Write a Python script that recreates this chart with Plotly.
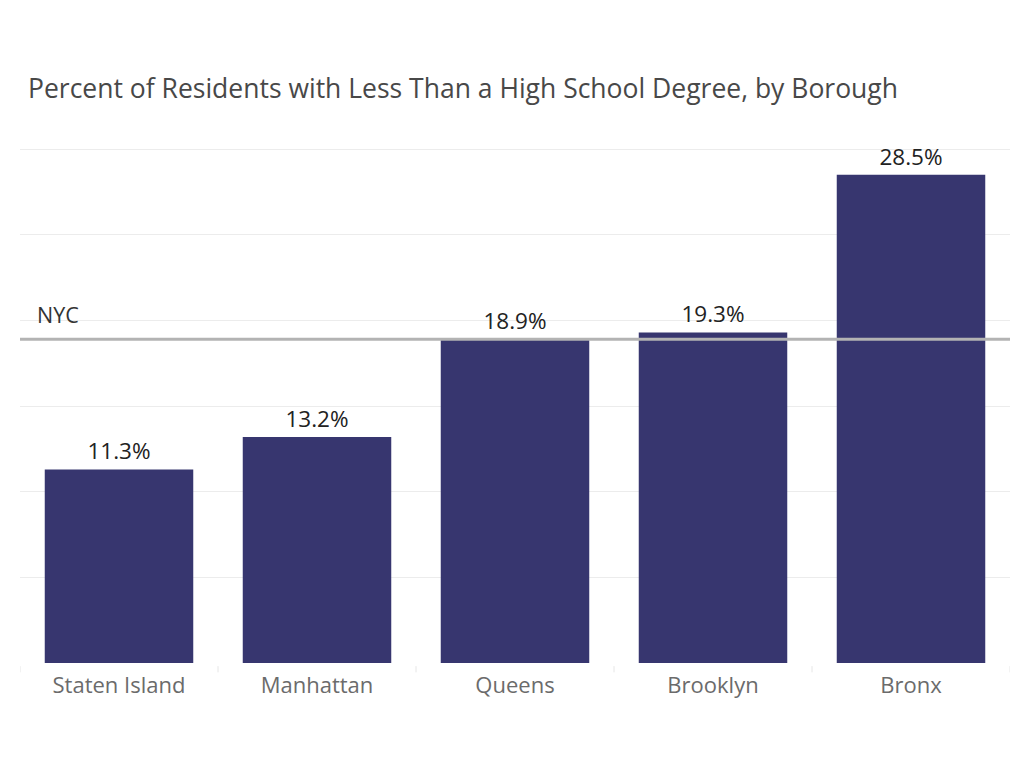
import plotly.graph_objects as go

boroughs = ["Staten Island", "Manhattan", "Queens", "Brooklyn", "Bronx"]
pct_less_than_hs = [11.3, 13.2, 18.9, 19.3, 28.5]
nyc_value = 18.9
title_text = "Percent of Residents with Less Than a High School Degree, by Borough"

# page has an 8px body margin, so the figure is sized/placed to compensate
W, H = 1016, 772
ML, MR, MT, MB = 12, 14, 136, 117
FONT = "Open Sans"

fig = go.Figure()
fig.add_trace(go.Bar(
    x=boroughs, y=pct_less_than_hs,
    marker=dict(color="#37366f", line=dict(width=0)),
    text=[f"{v:.1f}%" for v in pct_less_than_hs],
    textposition="outside",
    textfont=dict(family=FONT, size=22.5, color="#222222"),
    cliponaxis=False,
    width=0.75,
    hoverinfo="skip",
))

# NYC reference line
fig.add_shape(type="line", xref="paper", yref="y", x0=0, x1=1, y0=nyc_value, y1=nyc_value,
              line=dict(color="#b3b3b3", width=3), layer="above")
fig.add_annotation(xref="paper", yref="y", x=0.015, y=nyc_value, text="NYC", showarrow=False,
                   xanchor="left", yanchor="bottom", yshift=8,
                   font=dict(family=FONT, size=21.5, color="#333333"))

# category divider ticks at bottom
for i in range(len(boroughs) + 1):
    fig.add_shape(type="line", xref="x", yref="paper", x0=i - 0.5, x1=i - 0.5, y0=-0.006, y1=-0.018,
                  line=dict(color="#e6e6e6", width=1))

fig.update_layout(
    width=W, height=H,
    margin=dict(l=ML, r=MR, t=MT, b=MB),
    paper_bgcolor="white", plot_bgcolor="white",
    title=dict(text=title_text, x=20 / W, xanchor="left", y=1 - 81 / H, yanchor="middle",
               font=dict(family=FONT, size=26.5, color="#484848")),
    showlegend=False,
    bargap=0.25,
    xaxis=dict(range=[-0.5, 4.5], showgrid=False, zeroline=False, showline=False,
               ticks="", ticklabelstandoff=7,
               tickfont=dict(family=FONT, size=22, color="#6b6b6b")),
    yaxis=dict(range=[0, 30.3], tickvals=[0, 5, 10, 15, 20, 25, 30], showgrid=True,
               gridcolor="#ececec", gridwidth=1,
               zeroline=False, showticklabels=False, ticks="", showline=False),
)

fig.write_html("out.html")
